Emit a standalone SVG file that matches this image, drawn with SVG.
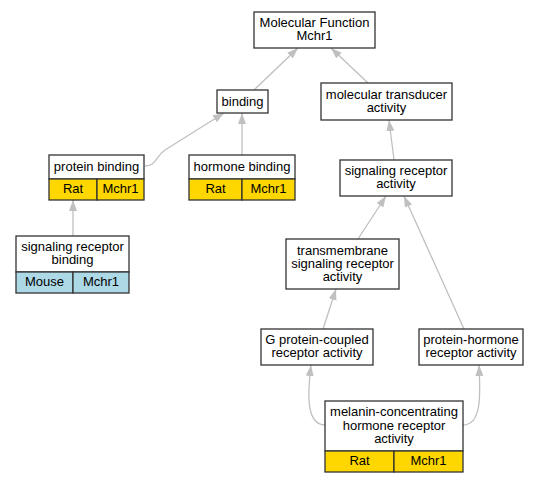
<svg xmlns="http://www.w3.org/2000/svg" width="537" height="483" viewBox="0 0 537 483">
<style>
.box{fill:#ffffff;stroke:#333333;stroke-width:1.3}
.rat{fill:#ffd700;stroke:#333333;stroke-width:1.3}
.mouse{fill:#add8e6;stroke:#333333;stroke-width:1.3}
text{font-family:"Liberation Sans",Arial,sans-serif;font-size:13px;fill:#000000;text-anchor:middle}
.edge{fill:none;stroke:#c0c0c0;stroke-width:1.3;marker-end:url(#arr)}
</style>
<defs>
<marker id="arr" markerUnits="userSpaceOnUse" markerWidth="12" markerHeight="9" refX="11" refY="4" orient="auto">
<path d="M0,0 L11,4 L0,8 z" fill="#c0c0c0"/>
</marker>
</defs>
<rect width="537" height="483" fill="#ffffff"/>
<g id="connectors">
<path class="edge" d="M254,90 L298,48"/>
<path class="edge" d="M368,83 L331,48"/>
<path class="edge" d="M145,166 C156,166 156,156 165,150 L224,113"/>
<path class="edge" d="M242,155 L242,113"/>
<path class="edge" d="M73,236 L73,200"/>
<path class="edge" d="M394,160 L389,120"/>
<path class="edge" d="M358,239 L386,196"/>
<path class="edge" d="M464,329 L404,196"/>
<path class="edge" d="M323,329 L336,289"/>
<path class="edge" d="M325,425 C305,425 308,390 311,365"/>
<path class="edge" d="M463,425 C483,425 480,390 479,365"/>
</g>
<g id="mf">
<rect class="box" x="254" y="12" width="121" height="36"/>
<text x="314.5" y="26.5">Molecular Function<tspan x="314.5" dy="13">Mchr1</tspan></text>
</g>
<g id="binding">
<rect class="box" x="217" y="90" width="51" height="23"/>
<text x="242.5" y="106">binding</text>
</g>
<g id="mta">
<rect class="box" x="321" y="83" width="131" height="37"/>
<text x="386.5" y="98.5">molecular transducer<tspan x="386.5" dy="13">activity</tspan></text>
</g>
<g id="protein-binding">
<rect class="box" x="49" y="155" width="95" height="24"/>
<rect class="rat" x="49" y="179" width="48" height="21"/>
<rect class="rat" x="97" y="179" width="47" height="21"/>
<text x="96.5" y="170.5">protein binding</text>
<text x="73" y="192.5">Rat</text>
<text x="120.5" y="192.5">Mchr1</text>
</g>
<g id="hormone-binding">
<rect class="box" x="189" y="155" width="106" height="24"/>
<rect class="rat" x="189" y="179" width="53" height="21"/>
<rect class="rat" x="242" y="179" width="53" height="21"/>
<text x="242" y="170.5">hormone binding</text>
<text x="215.5" y="192.5">Rat</text>
<text x="268.5" y="192.5">Mchr1</text>
</g>
<g id="srb">
<rect class="box" x="16" y="236" width="113" height="36"/>
<rect class="mouse" x="16" y="272" width="57" height="21"/>
<rect class="mouse" x="73" y="272" width="56" height="21"/>
<text x="72.5" y="250.5">signaling receptor<tspan x="72.5" dy="13">binding</tspan></text>
<text x="44.5" y="285.5">Mouse</text>
<text x="101" y="285.5">Mchr1</text>
</g>
<g id="sra">
<rect class="box" x="340" y="160" width="112" height="36"/>
<text x="396" y="174.5">signaling receptor<tspan x="396" dy="13">activity</tspan></text>
</g>
<g id="tsra">
<rect class="box" x="286" y="239" width="113" height="50"/>
<text x="342.5" y="254.5">transmembrane<tspan x="342.5" dy="13">signaling receptor</tspan><tspan x="342.5" dy="13">activity</tspan></text>
</g>
<g id="gpcr">
<rect class="box" x="261" y="329" width="112" height="36"/>
<text x="317" y="343.5">G protein-coupled<tspan x="317" dy="13">receptor activity</tspan></text>
</g>
<g id="phra">
<rect class="box" x="419" y="329" width="104" height="36"/>
<text x="471" y="343.5">protein-hormone<tspan x="471" dy="13">receptor activity</tspan></text>
</g>
<g id="mch">
<rect class="box" x="325" y="401" width="138" height="50"/>
<rect class="rat" x="325" y="451" width="69" height="21"/>
<rect class="rat" x="394" y="451" width="69" height="21"/>
<text x="394" y="415.5">melanin-concentrating<tspan x="394" dy="14">hormone receptor</tspan><tspan x="394" dy="13">activity</tspan></text>
<text x="359.5" y="464.5">Rat</text>
<text x="428.5" y="464.5">Mchr1</text>
</g>
</svg>
